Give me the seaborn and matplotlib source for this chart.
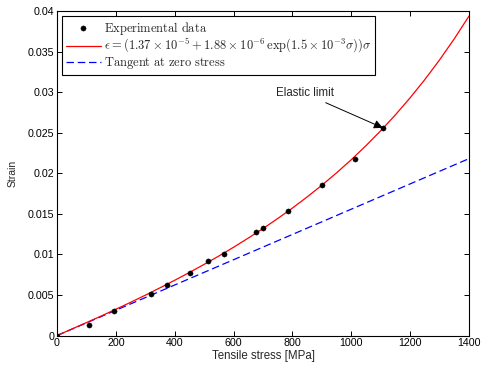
import pandas as pd
import matplotlib
matplotlib.use('Agg')
import matplotlib.pyplot as plt
import seaborn as sns

# Experimental points
exp_stress = [0, 110, 195, 319, 373, 451, 513, 569, 677, 699, 786, 901, 1013, 1107]
exp_strain = [0.0, 0.00135, 0.00305, 0.00515, 0.0062, 0.0077, 0.0092, 0.0100,
              0.0128, 0.0132, 0.0153, 0.0186, 0.0218, 0.0256]

# Fitted curve, read every 50 MPa
fit_stress = [0, 50, 100, 150, 200, 250, 300, 350, 400, 450, 500, 550, 600, 650, 700,
              750, 800, 850, 900, 950, 1000, 1050, 1100, 1150, 1200, 1250, 1300, 1350, 1400]
fit_strain = [0.0, 0.00079, 0.00159, 0.00240, 0.00324, 0.00409, 0.00497, 0.00588,
              0.00681, 0.00777, 0.00877, 0.00980, 0.01088, 0.01201, 0.01318,
              0.01442, 0.01571, 0.01708, 0.01852, 0.02005, 0.02167, 0.02340,
              0.02524, 0.02720, 0.02930, 0.03155, 0.03397, 0.03657, 0.03937]

# Tangent at zero stress
tan_stress = [0, 1400]
tan_strain = [0.0, 0.0218]

exp_df = pd.DataFrame({'Stress': exp_stress, 'Strain': exp_strain})
fit_df = pd.DataFrame({'Stress': fit_stress, 'Strain': fit_strain})
tan_df = pd.DataFrame({'Stress': tan_stress, 'Strain': tan_strain})

sns.set_style('ticks')
plt.rcParams['font.family'] = ['Liberation Sans', 'DejaVu Sans']
plt.rcParams['mathtext.fontset'] = 'cm'

fig = plt.figure(figsize=(4.82, 3.66), dpi=100)
ax = fig.add_axes([0.1183, 0.0833, 0.8547, 0.8867])

sns.scatterplot(x='Stress', y='Strain', data=exp_df, ax=ax, color='black', s=14,
                edgecolor='black', linewidth=0.3, zorder=3,
                label=r'$\mathrm{Experimental\ data}$')
sns.lineplot(x='Stress', y='Strain', data=fit_df, ax=ax, color='red', linewidth=0.9,
             estimator=None, sort=False, zorder=2,
             label=r'$\epsilon = (1.37 \times 10^{-5} + 1.88 \times 10^{-6}\,\exp(1.5 \times 10^{-3}\sigma))\sigma$')
sns.lineplot(x='Stress', y='Strain', data=tan_df, ax=ax, color='blue', linewidth=0.9,
             estimator=None, sort=False, zorder=1, dashes=False,
             label=r'$\mathrm{Tangent\ at\ zero\ stress}$')
ax.lines[-1].set_dashes((6, 3))

ax.annotate('Elastic limit', xy=(exp_stress[-1], exp_strain[-1]), xytext=(940, 0.0291),
            ha='right', va='bottom', fontsize=8.3,
            arrowprops=dict(arrowstyle='-|>', color='black', lw=0.7, mutation_scale=13,
                            shrinkA=0, shrinkB=0))

ax.set_xlim(0, 1400)
ax.set_ylim(0, 0.04)
ax.set_xticks(range(0, 1401, 200))
ax.set_yticks([0, 0.005, 0.01, 0.015, 0.02, 0.025, 0.03, 0.035, 0.04])
ax.set_yticklabels(['0', '0.005', '0.01', '0.015', '0.02', '0.025', '0.03', '0.035', '0.04'])
ax.set_xlabel('Tensile stress [MPa]', fontsize=8.3, labelpad=1)
ax.set_ylabel('Strain', fontsize=7.5, labelpad=7)
ax.tick_params(direction='in', length=3.5, width=0.7, labelsize=7.7, pad=2,
               top=True, right=True, colors='black')
for sp in ax.spines.values():
    sp.set_visible(True)
    sp.set_linewidth(0.8)
    sp.set_color('black')

leg = ax.legend(loc='upper left', bbox_to_anchor=(5 / 412, 1 - 5 / 324.5), borderaxespad=0,
                fontsize=9, frameon=True, fancybox=False, edgecolor='black',
                labelspacing=0.0, borderpad=0.3, handlelength=2.8, handletextpad=0.25)
leg.get_frame().set_linewidth(0.8)
leg.get_frame().set_alpha(1)

fig.savefig('out.png', dpi=100)
